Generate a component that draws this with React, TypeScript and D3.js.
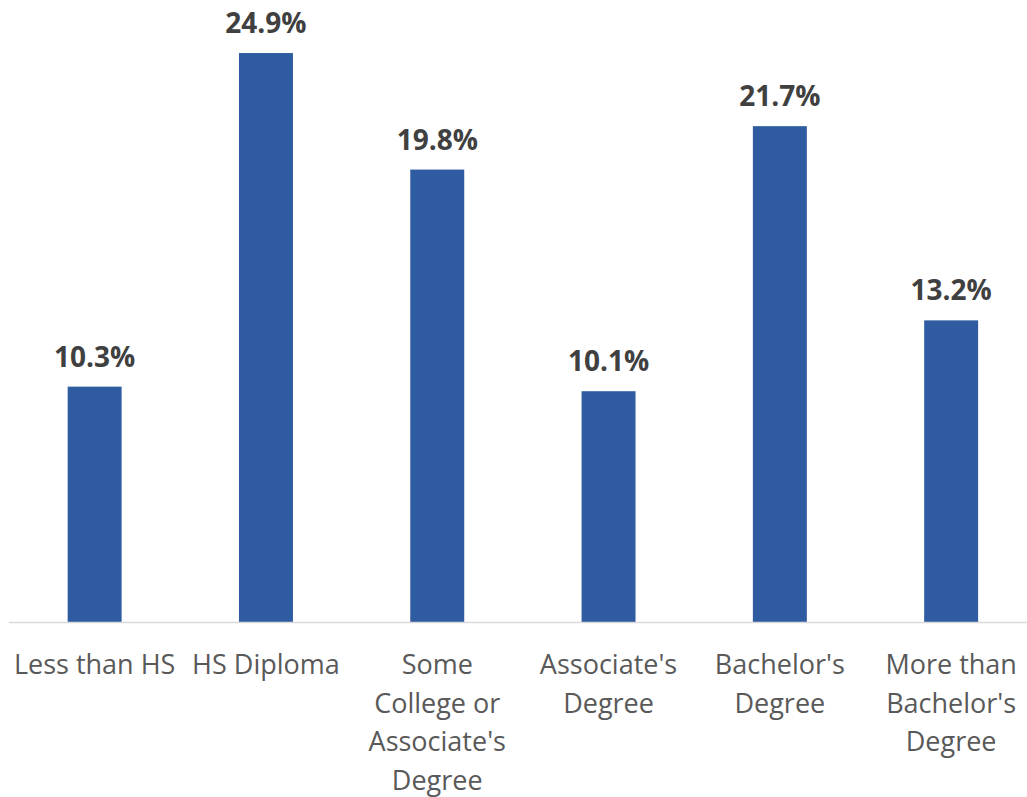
import { useEffect, useRef } from "react";
import * as d3 from "d3";

const categories = [
  "Less than HS",
  "HS Diploma",
  "Some College or Associate's Degree",
  "Associate's Degree",
  "Bachelor's Degree",
  "More than Bachelor's Degree",
];
// wrapped tick labels, as shown under each bar
const categoryLines = [
  ["Less than HS"],
  ["HS Diploma"],
  ["Some", "College or", "Associate's", "Degree"],
  ["Associate's", "Degree"],
  ["Bachelor's", "Degree"],
  ["More than", "Bachelor's", "Degree"],
];
const values = [10.3, 24.9, 19.8, 10.1, 21.7, 13.2];

const W = 1027;
const H = 797;

export default function App() {
  const svgRef = useRef<SVGSVGElement>(null);

  useEffect(() => {
    const svg = d3.select(svgRef.current);
    svg.selectAll("*").remove();

    const font = "'Open Sans', 'DejaVu Sans', sans-serif";
    const baseY = 622;

    const x = d3
      .scaleBand<string>()
      .domain(categories)
      .range([9, 9 + 6 * 171.3])
      .paddingInner(0.685)
      .paddingOuter(0.3425);

    const y = d3.scaleLinear().domain([0, 25]).range([baseY, baseY - 25 * 22.85]);

    // bars
    svg
      .append("g")
      .selectAll("rect")
      .data(values)
      .join("rect")
      .attr("x", (_, i) => x(categories[i])!)
      .attr("y", (d) => y(d))
      .attr("width", x.bandwidth())
      .attr("height", (d) => y(0) - y(d))
      .attr("fill", "#2f5ba1");

    // axis line
    svg
      .append("line")
      .attr("x1", 9)
      .attr("x2", W)
      .attr("y1", baseY + 0.5)
      .attr("y2", baseY + 0.5)
      .attr("stroke", "#d9d9d9")
      .attr("stroke-width", 1.5);

    // data labels
    svg
      .append("g")
      .selectAll("text")
      .data(values)
      .join("text")
      .attr("x", (_, i) => x(categories[i])! + x.bandwidth() / 2)
      .attr("y", (d) => y(d) - 20)
      .attr("text-anchor", "middle")
      .attr("font-family", font)
      .attr("font-weight", "bold")
      .attr("font-size", 28)
      .attr("fill", "#404040")
      .text((d) => d.toFixed(1) + "%");

    // category labels
    const labels = svg
      .append("g")
      .selectAll("text")
      .data(categoryLines)
      .join("text")
      .attr("x", (_, i) => x(categories[i])! + x.bandwidth() / 2)
      .attr("y", 674)
      .attr("text-anchor", "middle")
      .attr("font-family", font)
      .attr("font-size", 27)
      .attr("fill", "#595959");

    labels
      .selectAll("tspan")
      .data((d) => d)
      .join("tspan")
      .attr("x", function () {
        return (this.parentNode as SVGTextElement).getAttribute("x");
      })
      .attr("dy", (_, j) => (j === 0 ? 0 : 38.7))
      .text((d) => d);
  }, []);

  return (
    <svg
      ref={svgRef}
      width={W}
      height={H}
      style={{ position: "absolute", left: 0, top: 0, background: "#fff" }}
    />
  );
}
